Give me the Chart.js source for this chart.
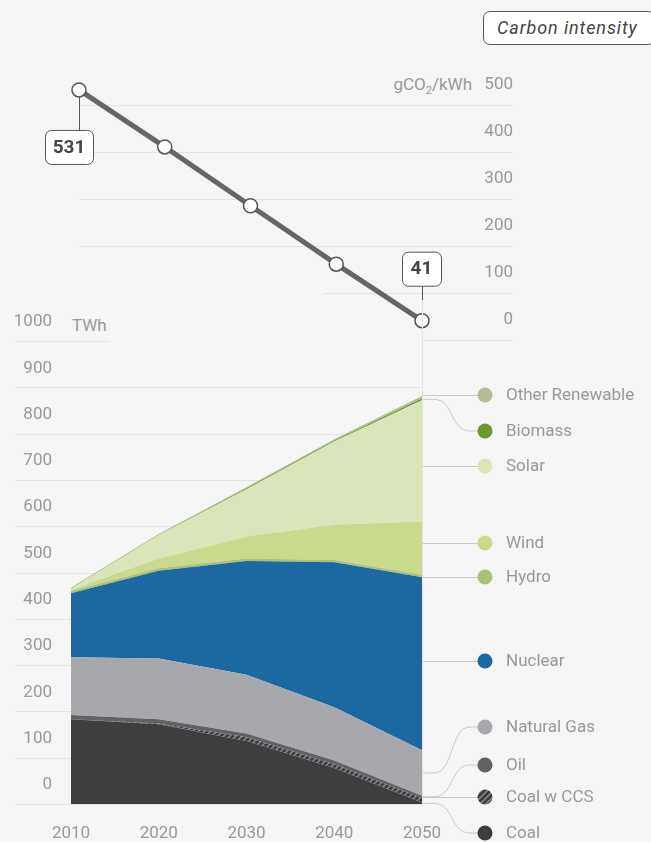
<!DOCTYPE html>
<html lang="en">
<head>
<meta charset="UTF-8">
<title>Electricity generation and carbon intensity</title>
<script src="https://cdn.jsdelivr.net/npm/chart.js@4"></script>
<style>
  html, body { margin: 0; padding: 0; background: #f5f5f5; }
  body { width: 651px; height: 842px; position: relative; overflow: hidden;
         font-family: Roboto, sans-serif; }
  canvas { position: absolute; left: 0; }
  #topChart { top: 0; }
  #bottomChart { top: 300px; }
  .tag { position: absolute; left: 483px; top: 11px; width: 172px; height: 34px; box-sizing: border-box;
         border: 1px solid #555; border-radius: 7px; background: #fff; color: #444; white-space: nowrap;
         font-style: italic; font-size: 18px; line-height: 32px; padding-left: 13px; letter-spacing: 0.9px; }
  .unit { position: absolute; color: #999; font-size: 17px; line-height: 22px; white-space: nowrap; }
  .unit sub { font-size: 11px; vertical-align: -4px; line-height: 0; }
</style>
</head>
<body>
<div class="tag">Carbon intensity</div>
<div class="unit" style="right:179px; top:73px;">gCO<sub>2</sub>/kWh</div>
<div class="unit" style="left:72px; top:314px;">TWh</div>
<canvas id="topChart" width="651" height="360"></canvas>
<canvas id="bottomChart" width="651" height="560"></canvas>

<script>
const FONT = 'Roboto, sans-serif';

// data
const years = [2010, 2020, 2030, 2040, 2050];
const intensity = [531, 410, 285, 161, 41];            // gCO2/kWh
const intensityTicks = [0, 100, 200, 300, 400, 500];
const energyTicks = [0, 100, 200, 300, 400, 500, 600, 700, 800, 900, 1000];

const seriesNames = ['Coal', 'Coal w CCS', 'Oil', 'Natural Gas', 'Nuclear',
                     'Hydro', 'Wind', 'Solar', 'Biomass', 'Other Renewable'];
const coal           = [183, 172, 136, 78, 3];
const coalCcs        = [0, 2, 8, 8, 10];
const oil            = [9, 9, 8, 8, 5];
const naturalGas     = [125, 131, 127, 115, 98];
const nuclear        = [138, 190, 246, 313, 374];
const hydro          = [5, 5, 5, 5, 5];
const wind           = [3, 21, 48, 76, 115];
const solar          = [2, 51, 102, 180, 262];
const biomass        = [1, 1, 2, 2, 4];
const otherRenewable = [1, 1, 2, 3, 5];

const series = [coal, coalCcs, oil, naturalGas, nuclear, hydro, wind, solar, biomass, otherRenewable];

// hatch for coal with CCS
function makeHatch() {
  const c = document.createElement('canvas');
  c.width = 6; c.height = 6;
  const g = c.getContext('2d');
  g.fillStyle = '#3e3e40';
  g.fillRect(0, 0, 6, 6);
  g.strokeStyle = '#8e8e90';
  g.lineWidth = 1.4;
  g.beginPath();
  g.moveTo(0, 6); g.lineTo(6, 0);
  g.moveTo(-1, 1); g.lineTo(1, -1);
  g.moveTo(5, 7); g.lineTo(7, 5);
  g.stroke();
  return g.createPattern(c, 'repeat');
}
const hatch = makeHatch();
const colors = ['#3e3e40', hatch, '#626365', '#a7a8ab', '#1c68a0',
                '#a9c27a', '#c9da8d', '#dbe5ba', '#6b9a2b', '#b3bc97'];

// ---------- top chart: carbon intensity ----------
const topGridStart = [423, 323, 79, 79, 79, 79];

function callout(ctx, cx, cy, w, h, text) {
  ctx.beginPath();
  ctx.roundRect(cx - w / 2 + 0.5, cy - h / 2 + 0.5, w, h, 6);
  ctx.fillStyle = '#fff';
  ctx.fill();
  ctx.strokeStyle = '#555';
  ctx.lineWidth = 1;
  ctx.stroke();
  ctx.fillStyle = '#444';
  ctx.font = 'bold 19px ' + FONT;
  ctx.textAlign = 'center';
  ctx.textBaseline = 'middle';
  ctx.fillText(text, cx, cy + 1);
}

const topDecor = {
  id: 'topDecor',
  beforeDatasetsDraw(chart) {
    const {ctx, scales: {x, y}} = chart;
    ctx.save();
    ctx.strokeStyle = '#e3e3e3';
    ctx.lineWidth = 1;
    intensityTicks.forEach((v, i) => {
      const py = Math.round(y.getPixelForValue(v)) + 0.5;
      ctx.beginPath();
      ctx.moveTo(topGridStart[i], py);
      ctx.lineTo(513, py);
      ctx.stroke();
    });
    const n = years.length - 1;
    const x0 = Math.round(x.getPixelForValue(years[0])) + 0.5;
    const y0 = y.getPixelForValue(intensity[0]);
    const x1 = Math.round(x.getPixelForValue(years[n])) + 0.5;
    const y1 = y.getPixelForValue(intensity[n]);
    ctx.strokeStyle = '#555';
    ctx.beginPath();
    ctx.moveTo(x0, y0); ctx.lineTo(x0, y0 + 45);
    ctx.moveTo(x1, y1); ctx.lineTo(x1, y1 - 40);
    ctx.stroke();
    // link down to the energy chart
    ctx.strokeStyle = '#e3e3e3';
    ctx.beginPath();
    ctx.moveTo(x1, y1); ctx.lineTo(x1, 360);
    ctx.stroke();
    ctx.restore();
  },
  afterDatasetsDraw(chart) {
    const {ctx, scales: {x, y}} = chart;
    const n = years.length - 1;
    ctx.save();
    callout(ctx, x.getPixelForValue(years[0]) - 10, y.getPixelForValue(intensity[0]) + 57, 48, 34, String(intensity[0]));
    callout(ctx, x.getPixelForValue(years[n]) - 0.5, y.getPixelForValue(intensity[n]) - 52, 39, 34, String(intensity[n]));
    ctx.restore();
  }
};

new Chart(document.getElementById('topChart'), {
  type: 'line',
  data: {
    datasets: [{
      data: years.map((yr, i) => ({x: yr, y: intensity[i]})),
      borderColor: '#666',
      borderWidth: 5,
      pointRadius: 7,
      pointBorderWidth: 1.5,
      pointBorderColor: '#555',
      pointBackgroundColor: '#fff',
      tension: 0,
      clip: false
    }]
  },
  options: {
    responsive: false,
    devicePixelRatio: 1,
    animation: false,
    layout: { padding: { left: 79, right: 138, top: 81, bottom: 20 } },
    plugins: { legend: { display: false }, tooltip: { enabled: false } },
    scales: {
      x: { type: 'linear', min: 2010, max: 2050, display: false },
      y: {
        position: 'right',
        min: 0, max: 550,
        afterBuildTicks: s => { s.ticks = intensityTicks.map(v => ({value: v})); },
        afterFit: s => { s.width = 91; },
        grid: { display: false, drawTicks: false },
        border: { display: false },
        ticks: { color: '#999', font: { family: FONT, size: 17 }, crossAlign: 'far', labelOffset: -20, padding: 0,
                 callback: v => String(v) }
      }
    }
  },
  plugins: [topDecor]
});

// ---------- bottom chart: generation by source ----------
const CANVAS_TOP = 300;
const legendY = [833, 797, 765, 727, 661, 577, 543, 466, 431, 395];

const bottomDecor = {
  id: 'bottomDecor',
  beforeDatasetsDraw(chart) {
    const {ctx, scales: {x, y}} = chart;
    const xr = Math.round(x.getPixelForValue(years[years.length - 1])) + 0.5;
    ctx.save();
    ctx.strokeStyle = '#e3e3e3';
    ctx.lineWidth = 1;
    energyTicks.forEach(v => {
      const py = Math.round(y.getPixelForValue(v)) + 0.5;
      ctx.beginPath();
      ctx.moveTo(15, py);
      ctx.lineTo(v === 1000 ? 110 : xr, py);
      ctx.stroke();
    });
    ctx.beginPath();
    ctx.moveTo(xr, 0);
    ctx.lineTo(xr, y.getPixelForValue(0));
    ctx.stroke();
    ctx.restore();
  },
  afterDatasetsDraw(chart) {
    const {ctx, scales: {x, y}} = chart;
    const n = years.length - 1;
    const xr = x.getPixelForValue(years[n]) + 1;
    const dotX = 485;
    ctx.save();
    let base = 0;
    series.forEach((s, i) => {
      const mid = y.getPixelForValue(base + s[n] / 2);
      base += s[n];
      const ly = legendY[i] - CANVAS_TOP;
      ctx.strokeStyle = '#c8c8c8';
      ctx.lineWidth = 1;
      ctx.beginPath();
      if (Math.abs(mid - ly) < 8) {
        ctx.moveTo(xr, ly + 0.5);
        ctx.lineTo(dotX, ly + 0.5);
      } else {
        ctx.moveTo(xr, mid);
        ctx.lineTo(434, mid);
        ctx.bezierCurveTo(454, mid, 450, ly, 470, ly);
        ctx.lineTo(dotX, ly);
      }
      ctx.stroke();
      ctx.beginPath();
      ctx.arc(dotX, ly, 7.5, 0, Math.PI * 2);
      ctx.fillStyle = colors[i];
      ctx.fill();
      ctx.fillStyle = '#999';
      ctx.font = '17px ' + FONT;
      ctx.textAlign = 'left';
      ctx.textBaseline = 'middle';
      ctx.fillText(seriesNames[i], 506, ly + 1);
    });
    ctx.restore();
  }
};

new Chart(document.getElementById('bottomChart'), {
  type: 'line',
  data: {
    datasets: series.map((s, i) => ({
      label: seriesNames[i],
      data: s.map((v, j) => ({x: years[j], y: v})),
      backgroundColor: colors[i],
      borderColor: 'rgba(0,0,0,0)',
      borderWidth: 0,
      pointRadius: 0,
      fill: i === 0 ? 'origin' : '-1',
      tension: 0
    }))
  },
  options: {
    responsive: false,
    devicePixelRatio: 1,
    animation: false,
    layout: { padding: { left: 15, right: 229, top: 41, bottom: 0 } },
    plugins: { legend: { display: false }, tooltip: { enabled: false } },
    scales: {
      x: {
        type: 'linear', min: 2010, max: 2050,
        afterBuildTicks: s => { s.ticks = years.map(v => ({value: v})); },
        afterFit: s => { s.height = 56; },
        grid: { display: false, drawTicks: false },
        border: { display: false },
        ticks: { color: '#999', font: { family: FONT, size: 17 }, padding: 20, maxRotation: 0,
                 callback: v => String(v) }
      },
      y: {
        stacked: true,
        min: 0, max: 1000,
        afterBuildTicks: s => { s.ticks = energyTicks.map(v => ({value: v})); },
        afterFit: s => { s.width = 56; },
        grid: { display: false, drawTicks: false },
        border: { display: false },
        ticks: { color: '#999', font: { family: FONT, size: 17 }, labelOffset: -19, padding: 19,
                 callback: v => String(v) }
      }
    }
  },
  plugins: [bottomDecor]
});
</script>
</body>
</html>
